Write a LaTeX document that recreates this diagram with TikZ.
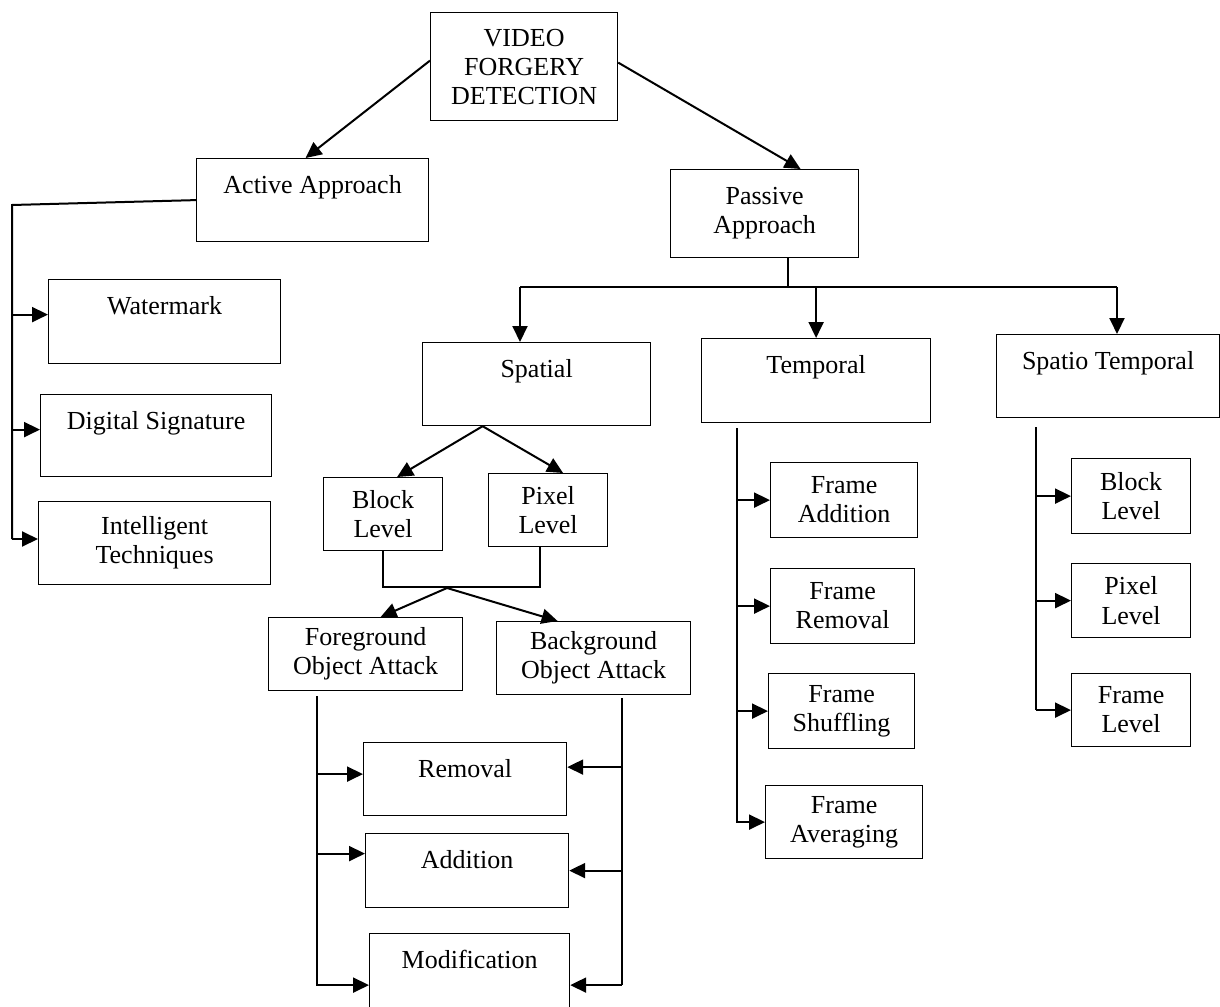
\documentclass[tikz,border=0pt]{standalone}
\usepackage{fontspec}
\setmainfont{Liberation Serif}
\usetikzlibrary{arrows.meta,calc}

\tikzset{
  box/.style={draw, line width=1.2pt, inner sep=0pt, anchor=north west, align=center,
    font=\fontsize{26}{29}\selectfont},
  headbox/.style={box, text height=35pt, text depth=#1},
  link/.style={line width=2pt},
  arr/.style={link, -{Triangle[length=16pt,width=15pt]}}
}

\begin{document}
\begin{tikzpicture}[x=1pt, y=-1pt]
        \useasboundingbox (0,0) rectangle (1220,1006);

        % Root and the two approaches
        \node[box, minimum width=187pt, minimum height=108pt] (vfd) at (430,12) {VIDEO\\FORGERY\\DETECTION};
        \node[headbox=48pt, minimum width=232pt] (act) at (196,158) {Active Approach};
        \node[box, minimum width=188pt, minimum height=88pt] (pas) at (670,169) {Passive\\Approach};

        % Active approach
        \node[headbox=49pt, minimum width=232pt] (wm) at (48,279) {Watermark};
        \node[headbox=47pt, minimum width=231pt] (ds) at (40,394) {Digital Signature};
        \node[box, minimum width=232pt, minimum height=83pt] (it) at (38,501) {Intelligent\\Techniques};

        % Passive approach
        \node[headbox=48pt, minimum width=228pt] (sp) at (422,342) {Spatial};
        \node[headbox=49pt, minimum width=229pt] (tm) at (701,338) {Temporal};
        \node[headbox=48pt, minimum width=223pt] (st) at (996,334) {Spatio Temporal};

        % Spatial branch
        \node[box, minimum width=119pt, minimum height=73pt] (blk) at (323,477) {Block\\Level};
        \node[box, minimum width=119pt, minimum height=73pt] (pix) at (488,473) {Pixel\\Level};
        \node[box, minimum width=194pt, minimum height=73pt] (fg) at (268,617) {Foreground\\Object Attack};
        \node[box, minimum width=194pt, minimum height=73pt] (bg) at (496,621) {Background\\Object Attack};
        \node[headbox=38pt, minimum width=203pt] (rem) at (363,742) {Removal};
        \node[headbox=39pt, minimum width=203pt] (add) at (365,833) {Addition};
        \node[headbox=42pt, minimum width=200pt] (mod) at (369,933) {Modification};

        % Temporal branch
        \node[box, minimum width=147pt, minimum height=75pt] (fa) at (770,462) {Frame\\Addition};
        \node[box, minimum width=144pt, minimum height=75pt] (fr) at (770,568) {Frame\\Removal};
        \node[box, minimum width=146pt, minimum height=75pt] (fs) at (768,673) {Frame\\Shuffling};
        \node[box, minimum width=157pt, minimum height=73pt] (fv) at (765,785) {Frame\\Averaging};

        % Spatio temporal branch
        \node[box, minimum width=119pt, minimum height=75pt] (sb) at (1071,458) {Block\\Level};
        \node[box, minimum width=119pt, minimum height=74pt] (spx) at (1071,563) {Pixel\\Level};
        \node[box, minimum width=119pt, minimum height=73pt] (sf) at (1071,673) {Frame\\Level};

        % Arrows from the root
        \draw[arr] ([yshift=6pt]vfd.west) -- ([xshift=-7pt]act.north);
        \draw[arr] ([yshift=4pt]vfd.east) -- ([xshift=36pt]pas.north);

        % Active bus
        \coordinate (abus) at (12,205);
        \coordinate (aend) at (12,539);
        \draw[link] (act.west) -- (abus) -- (aend);
        \draw[arr] (abus |- wm.base west) -- (wm.base west);
        \draw[arr] (abus |- ds.base west) -- (ds.base west);
        \draw[arr] (aend) -- (aend -| it.west);

        % Passive bus
        \coordinate (pdrop) at ([xshift=23pt]pas.south);
        \coordinate (pl) at (520,287);
        \coordinate (pr) at (1117,287);
        \draw[link] (pdrop) -- (pdrop |- pl);
        \draw[link] (pl) -- (pr);
        \draw[arr] (pl) -- (pl |- sp.north);
        \draw[arr] (tm.north |- pl) -- (tm.north);
        \draw[arr] (pr) -- (pr |- st.north);

        % Spatial fork
        \coordinate (spfork) at ([xshift=-54pt]sp.south);
        \draw[arr] (spfork) -- ([xshift=14pt]blk.north);
        \draw[arr] (spfork) -- ([xshift=15pt]pix.north);
        \draw[link] (blk.south) -- ++(0,36) -| ([xshift=-8pt]pix.south);
        \coordinate (bpjoin) at (447,588);
        \draw[arr] (bpjoin) -- ([xshift=15pt]fg.north);
        \draw[arr] (bpjoin) -- ([xshift=-36pt]bg.north);

        % Object attack buses
        \coordinate (fgbus) at ([xshift=-49pt,yshift=-5pt]fg.south);
        \coordinate (bgbus) at ([xshift=28pt,yshift=-3pt]bg.south);
        \coordinate (reml) at ([yshift=5pt]rem.west);
        \coordinate (remr) at ([yshift=12pt]rem.east);
        \coordinate (addl) at ([yshift=17pt]add.west);
        \coordinate (addr) at (add.east);
        \coordinate (modl) at ([yshift=-13pt]mod.west);
        \coordinate (modr) at ([yshift=-13pt]mod.east);
        \draw[arr] (fgbus |- reml) -- (reml);
        \draw[arr] (fgbus |- addl) -- (addl);
        \draw[arr] (fgbus) |- (modl);
        \draw[link] (bgbus) -- (bgbus |- modr);
        \draw[arr] (bgbus |- remr) -- (remr);
        \draw[arr] (bgbus |- addr) -- (addr);
        \draw[arr] (bgbus |- modr) -- (modr);

        % Temporal bus
        \coordinate (tbus) at ([xshift=-79pt,yshift=-5pt]tm.south);
        \draw[arr] (tbus) |- (fv.west);
        \draw[arr] (tbus |- fa.west) -- (fa.west);
        \draw[arr] (tbus |- fr.west) -- (fr.west);
        \draw[arr] (tbus |- fs.west) -- (fs.west);

        % Spatio temporal bus
        \coordinate (stbus) at ([xshift=-72pt,yshift=-9pt]st.south);
        \draw[link] (stbus) -- (stbus |- sf.west);
        \draw[arr] (stbus |- sb.west) -- (sb.west);
        \draw[arr] (stbus |- spx.west) -- (spx.west);
        \draw[arr] (stbus |- sf.west) -- (sf.west);
    \end{tikzpicture}
\end{document}
